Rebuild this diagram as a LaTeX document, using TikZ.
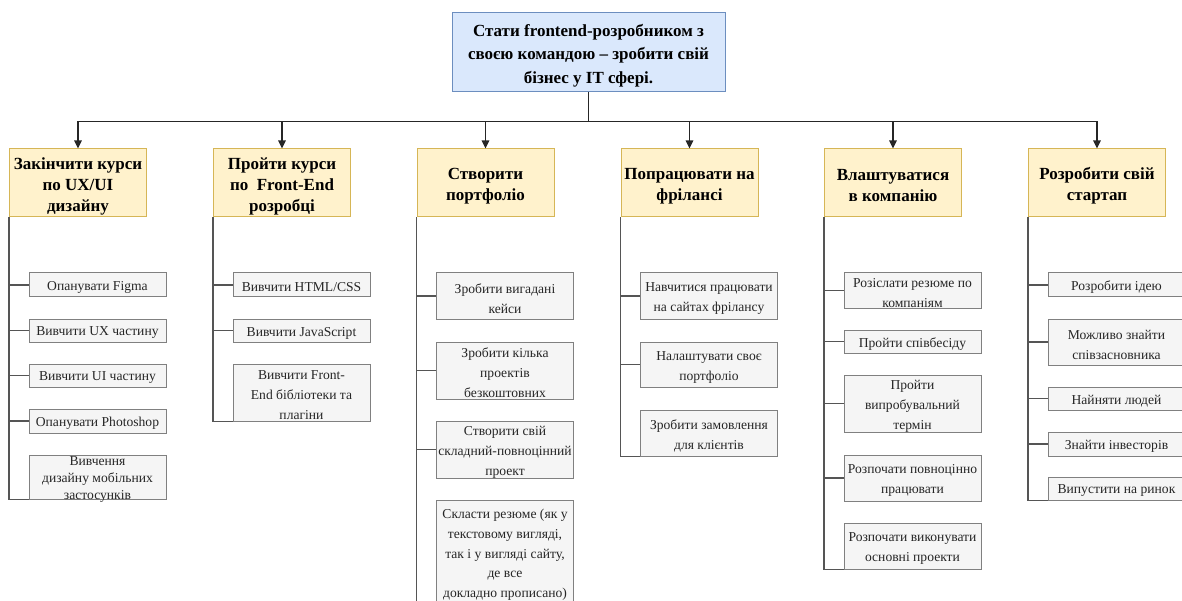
\documentclass[tikz,border=0pt]{standalone}
\usepackage{fontspec}
\setmainfont{Liberation Serif}
\usetikzlibrary{arrows.meta}
\definecolor{topfill}{HTML}{DAE8FC}
\definecolor{topdraw}{HTML}{6C8EBF}
\definecolor{hfill}{HTML}{FFF2CC}
\definecolor{hdraw}{HTML}{D6B656}
\definecolor{lfill}{HTML}{F5F5F5}
\definecolor{ldraw}{HTML}{808080}
\definecolor{ltext}{HTML}{262626}
\definecolor{lline}{HTML}{555555}
\tikzset{
  topbox/.style={draw=topdraw, fill=topfill, line width=1pt, minimum width=273pt, minimum height=79pt, inner sep=0pt},
  toptext/.style={align=center, inner sep=0pt, yshift=-3pt, font=\fontsize{17}{23.7}\selectfont\bfseries},
  headbox/.style={draw=hdraw, fill=hfill, line width=1pt, minimum width=137pt, minimum height=68pt, inner sep=0pt},
  headtext/.style={align=center, inner sep=0pt, yshift=-3pt, font=\fontsize{17}{21}\selectfont\bfseries},
  leafbox/.style={draw=ldraw, fill=lfill, line width=1pt, minimum width=137pt, inner sep=0pt},
  leaftext/.style={align=center, inner sep=0pt, yshift=-2.5pt, text=ltext, font=\fontsize{13.6}{20}\selectfont},
  tightlt/.style={font=\fontsize{13.6}{16.7}\selectfont},
  lowlt/.style={yshift=2.5pt, font=\fontsize{13.6}{19.7}\selectfont},
  arrowline/.style={draw=black!85, line width=1.2pt, -{Triangle[length=8pt,width=7.5pt]}},
  leafline/.style={draw=lline, line width=1.3pt},
}
\newcommand\leaf[5]{\node[leafbox, minimum height=#4pt, label={[leaftext]center:{#5}}] (#1) at (#2,#3) {};}
\newcommand\head[4]{\node[headbox, label={[headtext]center:{#4}}] (#1) at (#2,#3) {};}
\begin{document}
\begin{tikzpicture}[x=1pt, y=-1pt]
\useasboundingbox (0,0) rectangle (1182,601);
\clip (0,0) rectangle (1182,601);

% top
\node[topbox, label={[toptext]center:{Стати frontend-розробником з\\своєю командою – зробити свій\\бізнес у IT сфері.}}] (top) at (588.5,52.5) {};

% headers
\head{h1}{78}{183}{Закінчити курси\\по UX/UI\\дизайну}
\head{h2}{282}{183}{Пройти курси\\по~~Front-End\\розробці}
\head{h3}{485.5}{183}{Створити\\портфоліо}
\head{h4}{689.5}{183}{Попрацювати на\\фрілансі}
\head{h5}{893}{183}{Влаштуватися\\в компанію}
\head{h6}{1097}{183}{Розробити свій\\стартап}

\foreach \h in {h1,h2,h3,h4,h5,h6}{
  \draw[arrowline] (top.south) -- ++(0,29) -| (\h.north);
}

% column 1
\leaf{a1}{97.5}{285}{24}{Опанувати Figma}
\leaf{a2}{97.5}{330.5}{23}{Вивчити UX частину}
\leaf{a3}{97.5}{375.5}{23}{Вивчити UI частину}
\leaf{a4}{97.5}{421}{24}{Опанувати Photoshop}
\node[leafbox, minimum height=44pt, label={[leaftext,tightlt]center:{Вивчення\\дизайну мобільних\\застосунків}}] (a5) at (97.5,477) {};

% column 2
\leaf{b1}{301.5}{285}{24}{Вивчити HTML/CSS}
\leaf{b2}{301.5}{330.5}{23}{Вивчити JavaScript}
\leaf{b3}{301.5}{392.5}{57}{Вивчити Front-\\End бібліотеки та\\плагіни}

% column 3
\leaf{c1}{505}{296}{46}{Зробити вигадані\\кейси}
\leaf{c2}{505}{370.5}{57}{Зробити кілька\\проектів\\безкоштовних}
\leaf{c3}{505}{449.5}{57}{Створити свій\\складний-повноцінний\\проект}
\node[leafbox, minimum height=110pt, label={[leaftext,lowlt]center:{Скласти резюме (як у\\текстовому вигляді,\\так і у вигляді сайту,\\де все\\докладно прописано)}}] (c4) at (505,555) {};

% column 4
\leaf{d1}{709}{296}{46}{Навчитися працювати\\на сайтах фрілансу}
\leaf{d2}{709}{364.5}{45}{Налаштувати своє\\портфоліо}
\leaf{d3}{709}{433}{46}{Зробити замовлення\\для клієнтів}

% column 5
\leaf{e1}{912.5}{290.5}{35}{Розіслати резюме по\\компаніям}
\leaf{e2}{912.5}{341.5}{23}{Пройти співбесіду}
\leaf{e3}{912.5}{403.5}{57}{Пройти\\випробувальний\\термін}
\leaf{e4}{912.5}{478}{46}{Розпочати повноцінно\\працювати}
\leaf{e5}{912.5}{546}{46}{Розпочати виконувати\\основні проекти}

% column 6
\leaf{f1}{1116.5}{285}{24}{Розробити ідею}
\leaf{f2}{1116.5}{342}{46}{Можливо знайти\\співзасновника}
\leaf{f3}{1116.5}{398.5}{23}{Найняти людей}
\leaf{f4}{1116.5}{444}{24}{Знайти інвесторів}
\leaf{f5}{1116.5}{488.5}{23}{Випустити на ринок}

% leaf connectors
\foreach \p/\c in {h1/a1,h1/a2,h1/a3,h1/a4,h2/b1,h2/b2,h3/c1,h3/c2,h3/c3,h4/d1,h4/d2,h5/e1,h5/e2,h5/e3,h5/e4,h6/f1,h6/f2,h6/f3,h6/f4}{
  \draw[leafline] (\p.south west) |- (\c.west);
}
\foreach \p/\c in {h1/a5,h2/b3,h3/c4,h4/d3,h5/e5,h6/f5}{
  \draw[leafline] (\p.south west) |- (\c.south west);
}
\end{tikzpicture}
\end{document}
